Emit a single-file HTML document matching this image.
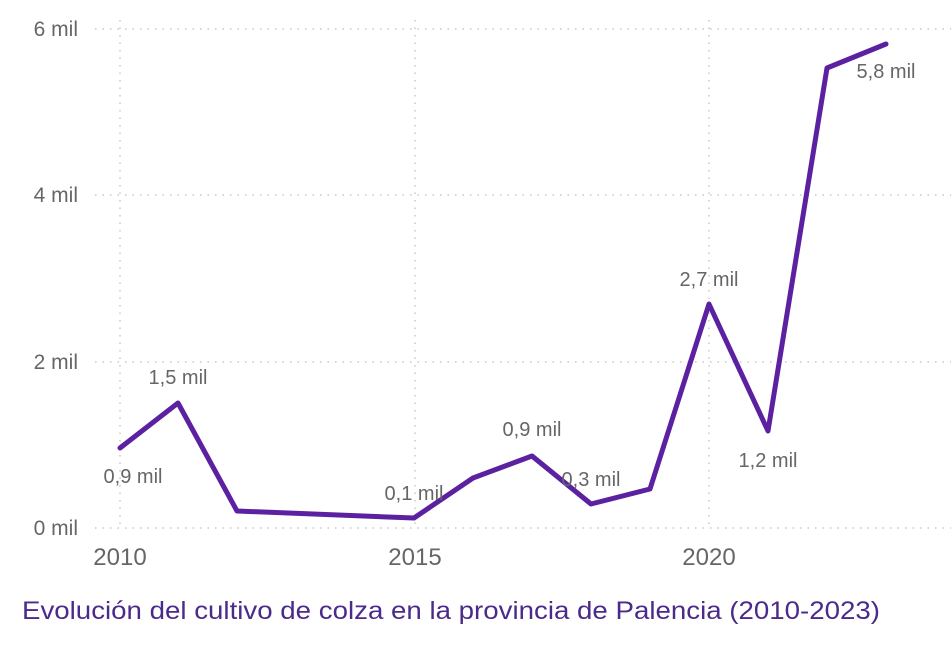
<!DOCTYPE html>
<html><head><meta charset="utf-8"><style>
html,body{margin:0;padding:0;background:#fff;}
svg{display:block;}
</style></head><body>
<svg width="951" height="646" xmlns="http://www.w3.org/2000/svg" font-family="'Liberation Sans', sans-serif">
<g stroke="#c8c8c8" stroke-width="1.5" stroke-dasharray="1.5,6">
<line x1="95" y1="29" x2="951" y2="29"/>
<line x1="95" y1="195" x2="951" y2="195"/>
<line x1="95" y1="362" x2="951" y2="362"/>
<line x1="95" y1="528" x2="951" y2="528"/>
<line x1="120" y1="20" x2="120" y2="528"/>
<line x1="415" y1="20" x2="415" y2="528"/>
<line x1="709" y1="20" x2="709" y2="528"/>
</g>
<g fill="#666" font-size="21" text-anchor="end">
<text x="78" y="36">6 mil</text>
<text x="78" y="202">4 mil</text>
<text x="78" y="369">2 mil</text>
<text x="78" y="535">0 mil</text>
</g>
<g fill="#666" font-size="24" text-anchor="middle">
<text x="120" y="565">2010</text>
<text x="415" y="565">2015</text>
<text x="709" y="565">2020</text>
</g>
<polyline fill="none" stroke="#5b21a0" stroke-width="5" stroke-linejoin="round" stroke-linecap="round"
points="120,448 178,403 237,511 414,518 473,478 532,456 591,504 650,489 709,304 768,431 827,68 886,44"/>
<g fill="#666" font-size="20" text-anchor="middle">
<text x="133" y="483">0,9 mil</text>
<text x="178" y="384">1,5 mil</text>
<text x="414" y="500">0,1 mil</text>
<text x="532" y="436">0,9 mil</text>
<text x="591" y="486">0,3 mil</text>
<text x="709" y="286">2,7 mil</text>
<text x="768" y="467">1,2 mil</text>
<text x="886" y="78">5,8 mil</text>
</g>
<text x="22" y="619" fill="#4b2a8a" font-size="25" textLength="858" lengthAdjust="spacingAndGlyphs">Evolución del cultivo de colza en la provincia de Palencia (2010-2023)</text>
</svg>
</body></html>
